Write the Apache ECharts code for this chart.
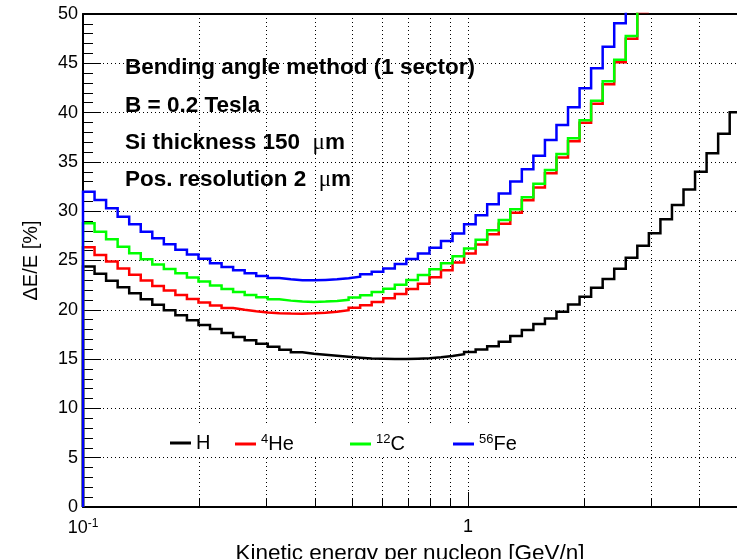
<!DOCTYPE html>
<html>
<head>
<meta charset="utf-8">
<script src="https://cdn.jsdelivr.net/npm/echarts@6/dist/echarts.min.js"></script>
<style>
  html, body { margin: 0; padding: 0; background: #fff; }
  #myChart { width: 737px; height: 559px; }
</style>
</head>
<body>
<div id="myChart"></div>
<script>
// histogram binning: log10 bins of width 0.03, first edge at 0.1 GeV/n
var binStartLog = -1;
var binWidthLog = 0.03;

// bin contents (ΔE/E in %)
var hValues = [
  24.4, 23.65, 22.95, 22.28, 21.67, 21.06, 20.5, 19.95, 19.45, 18.95,
  18.45, 18.05, 17.65, 17.25, 16.9, 16.55, 16.25, 15.95, 15.7, 15.55,
  15.45, 15.33, 15.23, 15.14, 15.07, 15.03, 15.0, 15.0, 15.03, 15.08,
  15.18, 15.32, 15.5, 15.72, 15.98, 16.3, 16.75, 17.35, 17.95, 18.56,
  19.13, 19.81, 20.55, 21.33, 22.24, 23.12, 24.17, 25.29, 26.5, 27.76,
  29.18, 30.63, 32.2, 34.0, 35.87, 37.86, 40.03
];
var heValues = [
  26.34, 25.56, 24.9, 24.18, 23.56, 22.96, 22.41, 21.96, 21.5, 21.1,
  20.75, 20.43, 20.18, 20.0, 19.85, 19.73, 19.66, 19.62, 19.61, 19.64,
  19.7, 19.8, 19.96, 20.2, 20.47, 20.8, 21.17, 21.6, 22.1, 22.65,
  23.3, 24.0, 24.8, 25.7, 26.62, 27.65, 28.72, 29.85, 31.1, 32.4,
  33.85, 35.45, 37.1, 38.98, 40.9, 42.88, 45.1, 47.5, 50.2
];
var cValues = [
  28.77, 27.92, 27.15, 26.4, 25.73, 25.12, 24.6, 24.15, 23.7, 23.27,
  22.87, 22.46, 22.12, 21.8, 21.5, 21.27, 21.06, 20.93, 20.83, 20.8,
  20.83, 20.89, 21.01, 21.25, 21.48, 21.8, 22.13, 22.54, 23.01, 23.52,
  24.1, 24.72, 25.42, 26.22, 27.1, 28.08, 29.12, 30.2, 31.42, 32.78,
  34.18, 35.79, 37.4, 39.22, 41.19, 43.17, 45.36, 47.78, 50.4
];
var feValues = [
  31.98, 31.14, 30.29, 29.44, 28.67, 27.92, 27.25, 26.64, 26.08, 25.6,
  25.17, 24.72, 24.35, 24.0, 23.7, 23.43, 23.22, 23.09, 23.0, 22.99,
  23.03, 23.09, 23.19, 23.36, 23.6, 23.87, 24.2, 24.64, 25.15, 25.7,
  26.3, 26.98, 27.75, 28.67, 29.6, 30.7, 31.8, 33.0, 34.25, 35.63,
  37.22, 38.74, 40.53, 42.46, 44.49, 46.68, 49.05, 51.5
];

var seriesNames = ['H', '4He', '12C', '56Fe'];
var seriesColors = ['#000000', '#ff0000', '#00ff00', '#0000ff'];

var xMajorTicks = [0.1, 1];
var xGridTicks = [0.1, 0.2, 0.3, 0.4, 0.5, 0.6, 0.7, 0.8, 0.9, 1, 2, 3, 4, 5];

var infoLines = [
  '{b|Bending angle method (1 sector)}',
  '{b|B = 0.2 Tesla}',
  '{b|Si thickness 150  }{u|μ}{b|m}',
  '{b|Pos. resolution 2  }{u|μ}{b|m}'
];

var FONT = 'Liberation Sans, Arial, Helvetica, sans-serif';

// legend entry left edges (px), as placed in the original plot
var legendLefts = [170, 235, 350, 453];

function edge(k) {
  return Math.pow(10, binStartLog + binWidthLog * k);
}

// ROOT-like histogram outline: start from 0 at the first edge, then one step per bin
function stepData(values) {
  var pts = [[edge(0), 0]];
  for (var k = 0; k < values.length; k++) {
    pts.push([edge(k), values[k]]);
  }
  pts.push([edge(values.length), values[values.length - 1]]);
  return pts;
}

var allValues = [hValues, heValues, cValues, feValues];
var dotted = { color: '#000', width: 1, type: [1, 3] };

function legendLabel(name) {
  var m = name.match(/^(\d+)(\D+)$/);
  return m ? '{s|' + m[1] + '}{n|' + m[2] + '}' : '{n|' + name + '}';
}

var myChart = echarts.init(document.getElementById('myChart'), null, { renderer: 'canvas' });

var option = {
  animation: false,
  backgroundColor: '#fff',
  grid: {
    left: 83, right: 0, top: 14, bottom: 52,
    containLabel: false,
    outerBoundsMode: 'none'
  },
  xAxis: [{
    type: 'log',
    logBase: 10,
    min: 0.1,
    max: 5,
    position: 'bottom',
    axisLine: { show: true, lineStyle: { color: '#000', width: 2 } },
    axisTick: { show: true, inside: true, length: 8, customValues: xGridTicks, lineStyle: { color: '#000', width: 1 } },
    minorTick: { show: false },
    axisLabel: {
      customValues: xMajorTicks,
      margin: 11,
      color: '#000',
      fontFamily: FONT,
      fontSize: 18,
      formatter: function (v) {
        return v < 0.5 ? '{b|10}{s|-1}' : '{b|1}';
      },
      rich: {
        b: { fontSize: 18, fontFamily: FONT, color: '#000' },
        s: { fontSize: 12, fontFamily: FONT, color: '#000', padding: [0, 0, 8, 0] }
      }
    },
    splitLine: { show: true, lineStyle: dotted },
    name: 'Kinetic energy per nucleon [GeV/n]',
    nameLocation: 'middle',
    nameGap: 28,
    nameTextStyle: { fontSize: 22.5, color: '#000', fontFamily: FONT }
  }, {
    // top frame line
    type: 'log',
    logBase: 10,
    min: 0.1,
    max: 5,
    position: 'top',
    axisLine: { show: true, lineStyle: { color: '#000', width: 2 } },
    axisTick: { show: false },
    axisLabel: { show: false },
    splitLine: { show: false }
  }, {
    // longer ticks at the decades
    type: 'log',
    logBase: 10,
    min: 0.1,
    max: 5,
    position: 'bottom',
    axisLine: { show: false },
    axisTick: { show: true, inside: true, length: 15, customValues: xMajorTicks, lineStyle: { color: '#000', width: 1 } },
    axisLabel: { show: false },
    splitLine: { show: false }
  }],
  yAxis: {
    type: 'value',
    min: 0,
    max: 50,
    interval: 5,
    axisLine: { show: true, lineStyle: { color: '#000', width: 2 } },
    axisTick: { show: true, inside: true, length: 18, lineStyle: { color: '#000', width: 1 } },
    minorTick: { show: true, splitNumber: 5, length: 10, lineStyle: { color: '#000', width: 1 } },
    axisLabel: { margin: 5, color: '#000', fontFamily: FONT, fontSize: 18 },
    splitLine: { show: true, lineStyle: dotted },
    name: 'ΔE/E [%]',
    nameLocation: 'middle',
    nameRotate: 90,
    nameGap: 42,
    nameTextStyle: { fontSize: 20, color: '#000', fontFamily: FONT }
  },
  // one legend per entry so each sits at its own column
  legend: seriesNames.map(function (n, i) {
    return {
      left: legendLefts[i],
      top: 433,
      padding: 0,
      itemWidth: 21,
      itemHeight: 3,
      icon: 'rect',
      selectedMode: false,
      data: [n],
      formatter: legendLabel,
      textStyle: {
        color: '#000',
        fontFamily: FONT,
        fontSize: 20,
        rich: {
          n: { fontSize: 20, fontFamily: FONT, color: '#000' },
          s: { fontSize: 13, fontFamily: FONT, color: '#000', padding: [0, 0, 9, 0] }
        }
      }
    };
  }),
  graphic: [{
    // white legend pad hiding the grid behind the entries
    type: 'rect',
    z: 3,
    silent: true,
    shape: { x: 167, y: 425, width: 416, height: 32 },
    style: { fill: '#fff' }
  }].concat(infoLines.map(function (t, i) {
    return {
      type: 'text',
      x: 125,
      y: 68 + i * 37.3,
      z: 10,
      style: {
        text: t,
        textVerticalAlign: 'middle',
        rich: {
          b: { fontSize: 22.5, fontWeight: 'bold', fontFamily: FONT, fill: '#000' },
          u: { fontSize: 23, fontWeight: 'normal', fontFamily: 'Liberation Serif, serif', fill: '#000' }
        }
      }
    };
  })),
  series: allValues.map(function (vals, i) {
    return {
      name: seriesNames[i],
      type: 'line',
      step: 'end',
      xAxisIndex: 0,
      showSymbol: false,
      symbol: 'none',
      clip: true,
      color: seriesColors[i],
      lineStyle: { color: seriesColors[i], width: 2.5, join: 'miter' },
      itemStyle: { color: seriesColors[i] },
      data: stepData(vals)
    };
  })
};

myChart.setOption(option);
</script>
</body>
</html>
